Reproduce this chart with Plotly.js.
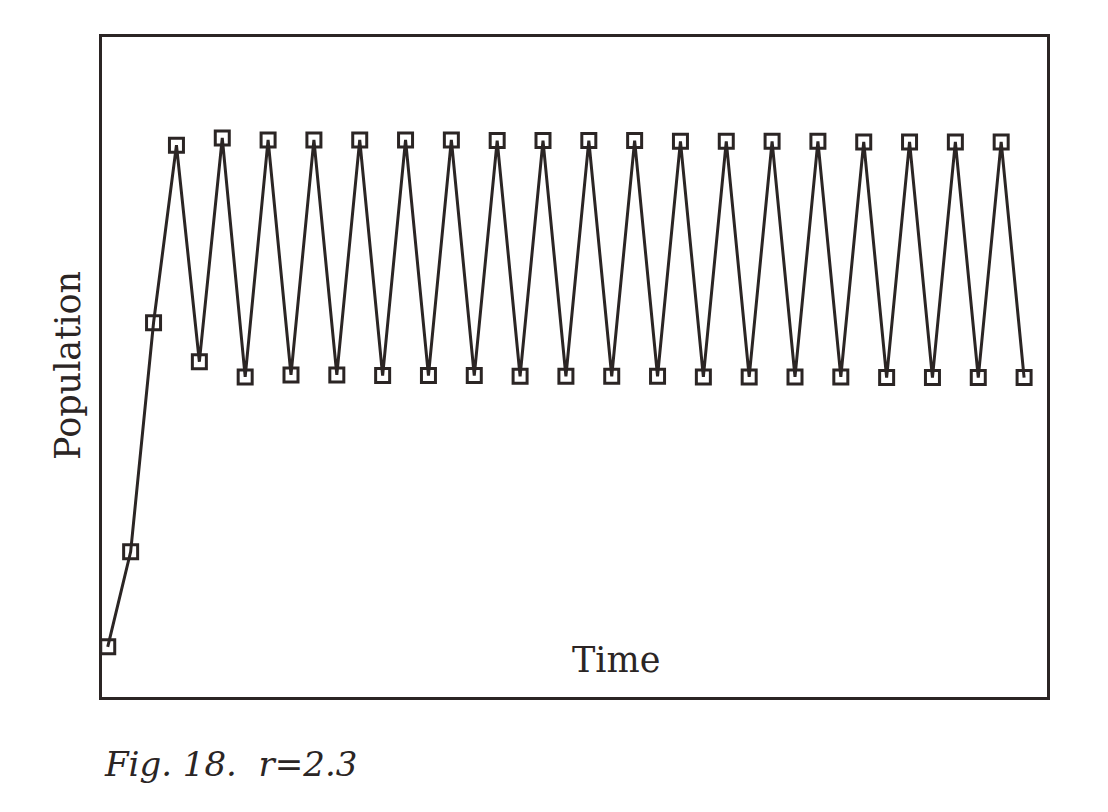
<!DOCTYPE html>
<html>
<head>
<meta charset="utf-8">
<script src="https://cdn.plot.ly/plotly-3.0.1.min.js"></script>
<style>html,body{margin:0;padding:0;background:#fff;}#chart{width:1108px;height:812px;}</style>
</head>
<body>
<div id="chart"></div>
<script>
const timeSteps = [0,1,2,3,4,5,6,7,8,9,10,11,12,13,14,15,16,17,18,19,20,21,22,23,24,25,26,27,28,29,30,31,32,33,34,35,36,37,38,39,40];
const population = [7.6,22.0,56.7,83.6,50.8,84.7,48.5,84.4,48.8,84.4,48.8,84.4,48.7,84.4,48.7,84.4,48.7,84.3,48.6,84.3,48.6,84.3,48.6,84.3,48.6,84.2,48.5,84.2,48.5,84.2,48.5,84.2,48.5,84.1,48.4,84.1,48.4,84.1,48.4,84.1,48.4];
const xLabel = 'Time';
const yLabel = 'Population';
const caption = 'Fig. 18.  r=2.3';

const ink = '#2b2524';
const trace = {
  x: timeSteps, y: population, type: 'scatter', mode: 'lines+markers',
  line: {color: ink, width: 3},
  marker: {symbol: 'square-open', size: 14, color: ink, line: {color: ink, width: 3}},
  hoverinfo: 'skip'
};
const layout = {
  width: 1108, height: 812,
  margin: {l: 102, r: 61, t: 37, b: 115},
  paper_bgcolor: '#fff', plot_bgcolor: '#fff',
  showlegend: false,
  xaxis: {range: [-0.25, 41.0], showgrid: false, zeroline: false, showticklabels: false, ticks: '',
          showline: true, mirror: true, linecolor: ink, linewidth: 3},
  yaxis: {range: [0, 100], showgrid: false, zeroline: false, showticklabels: false, ticks: '',
          showline: true, mirror: true, linecolor: ink, linewidth: 3},
  annotations: [
    {text: xLabel, xref: 'paper', yref: 'paper', x: 0.544, y: 0.056, xanchor: 'center', yanchor: 'middle',
     showarrow: false, font: {family: 'DejaVu Serif', size: 35, color: ink}},
    {text: yLabel, xref: 'paper', yref: 'paper', x: -0.036, y: 0.503, xanchor: 'center', yanchor: 'middle',
     textangle: -90, showarrow: false, font: {family: 'DejaVu Serif', size: 35, color: ink}},
    {text: '<i>' + caption + '</i>', xref: 'paper', yref: 'paper', x: 0.0, y: -0.102, xanchor: 'left', yanchor: 'middle',
     showarrow: false, font: {family: 'DejaVu Serif', size: 34, color: ink}}
  ]
};
Plotly.newPlot('chart', [trace], layout, {staticPlot: true, displayModeBar: false});
</script>
</body>
</html>
